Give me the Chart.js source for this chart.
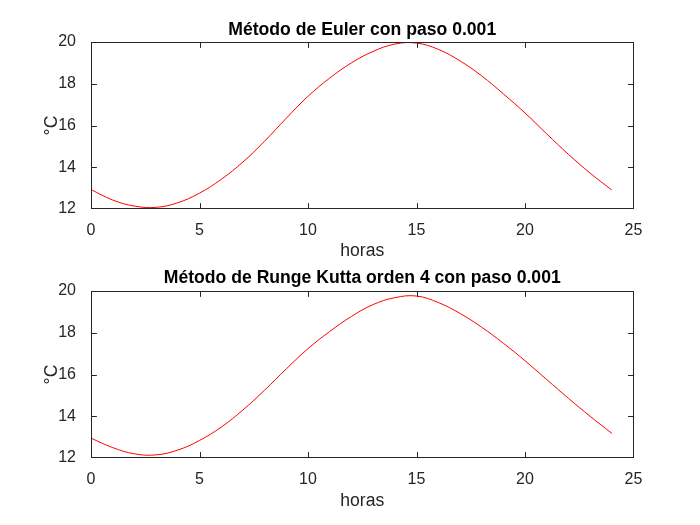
<!DOCTYPE html>
<html>
<head>
<meta charset="utf-8">
<script src="https://cdn.jsdelivr.net/npm/chart.js@4"></script>
<style>
  body { margin: 0; background: #fff; }
  #wrap { position: relative; width: 700px; height: 525px; }
  canvas { position: absolute; left: 0; }
</style>
</head>
<body>
<div id="wrap">
  <canvas id="eulerChart" width="700" height="262" style="top:0"></canvas>
  <canvas id="rkChart" width="700" height="263" style="top:262px"></canvas>
</div>
<script>
// horas
const hours = [0, 1, 2, 3, 4, 5, 6, 7, 8, 9, 10, 11, 12, 13, 14, 15, 16, 17, 18, 19, 20, 21, 22, 23, 24];
// temperatura (°C)
const eulerTemp = [12.93, 12.43, 12.14, 12.08, 12.3, 12.76, 13.42, 14.25, 15.25, 16.35, 17.4, 18.27, 19.0,
  19.55, 19.9, 19.95, 19.65, 19.1, 18.38, 17.52, 16.6, 15.6, 14.62, 13.72, 12.91];
const rkTemp = [12.95, 12.5, 12.2, 12.15, 12.38, 12.84, 13.48, 14.3, 15.25, 16.27, 17.24, 18.06, 18.78,
  19.35, 19.68, 19.76, 19.45, 18.93, 18.27, 17.5, 16.66, 15.76, 14.86, 14.0, 13.18];
const xTicks = [0, 5, 10, 15, 20, 25];
const yTicks = [12, 14, 16, 18, 20];

const axisColor = "#262626";
const fontFamily = "'Liberation Sans', Arial, Helvetica, sans-serif";

// marco completo con marcas hacia dentro, como en MATLAB
const boxPlugin = {
  id: "boxPlugin",
  afterDraw(chart) {
    const { ctx, chartArea: a, scales } = chart;
    const len = 5.4;
    const L = Math.round(a.left) + 0.5;
    const R = Math.round(a.right) - 0.5;
    const T = Math.round(a.top) + 0.5;
    const B = Math.round(a.bottom) - 0.5;
    ctx.save();
    ctx.strokeStyle = axisColor;
    ctx.lineWidth = 1;
    ctx.strokeRect(L, T, R - L, B - T);
    ctx.beginPath();
    scales.x.ticks.forEach((t) => {
      const px = Math.min(R, Math.max(L, Math.round(scales.x.getPixelForValue(t.value)) + 0.5));
      ctx.moveTo(px, B);
      ctx.lineTo(px, B - len);
      ctx.moveTo(px, T);
      ctx.lineTo(px, T + len);
    });
    scales.y.ticks.forEach((t) => {
      const py = Math.min(B, Math.max(T, Math.round(scales.y.getPixelForValue(t.value)) + 0.5));
      ctx.moveTo(L, py);
      ctx.lineTo(L + len, py);
      ctx.moveTo(R, py);
      ctx.lineTo(R - len, py);
    });
    ctx.stroke();
    ctx.restore();
  },
};

function makeChart(id, title, values, opts) {
  const ctx = document.getElementById(id).getContext("2d");
  return new Chart(ctx, {
    type: "line",
    data: {
      datasets: [
        {
          data: hours.map((h, i) => ({ x: h, y: values[i] })),
          borderColor: "#ff0000",
          borderWidth: 1,
          pointRadius: 0,
          tension: 0.4,
          fill: false,
        },
      ],
    },
    options: {
      responsive: false,
      animation: false,
      events: [],
      layout: { padding: { left: 0, right: 66.5, top: 0, bottom: 0 } },
      plugins: {
        legend: { display: false },
        tooltip: { enabled: false },
        title: {
          display: true,
          text: title,
          fullSize: false,
          color: "#000",
          font: { family: fontFamily, size: 17.6, weight: "bold" },
          padding: { top: opts.titleTop, bottom: opts.titleBottom },
        },
      },
      scales: {
        x: {
          type: "linear",
          min: 0,
          max: 25,
          afterBuildTicks: (s) => { s.ticks = xTicks.map((v) => ({ value: v })); },
          afterFit: (s) => { s.height = opts.xHeight; },
          grid: { display: false },
          border: { display: false },
          ticks: {
            color: axisColor,
            padding: 4,
            maxRotation: 0,
            font: { family: fontFamily, size: 16 },
          },
          title: {
            display: true,
            text: "horas",
            color: axisColor,
            font: { family: fontFamily, size: 17.6 },
            padding: { top: 0, bottom: opts.xTitleBottom },
          },
        },
        y: {
          min: 12,
          max: 20,
          afterBuildTicks: (s) => { s.ticks = yTicks.map((v) => ({ value: v })); },
          afterFit: (s) => { s.width = 91; },
          grid: { display: false },
          border: { display: false },
          ticks: {
            color: axisColor,
            padding: 7,
            font: { family: fontFamily, size: 16 },
          },
          title: {
            display: true,
            text: "°C",
            color: axisColor,
            font: { family: fontFamily, size: 17.6 },
            padding: { top: 42, bottom: 0 },
          },
        },
      },
    },
    plugins: [boxPlugin],
  });
}

makeChart("eulerChart", "Método de Euler con paso 0.001", eulerTemp, {
  titleTop: 19.4, titleBottom: 1.5, xHeight: 53, xTitleBottom: 0.5,
});
makeChart("rkChart", "Método de Runge Kutta orden 4 con paso 0.001", rkTemp, {
  titleTop: 5.4, titleBottom: 2.5, xHeight: 67, xTitleBottom: 13,
});
</script>
</body>
</html>
